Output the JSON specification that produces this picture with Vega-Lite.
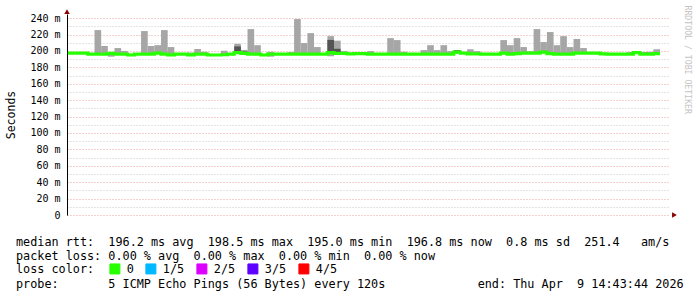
{
  "$schema": "https://vega.github.io/schema/vega-lite/v6.json",
  "background": "white",
  "padding": {"left": 5, "top": 5, "right": 5, "bottom": 0},
  "config": {"view": {"stroke": null}, "font": "DejaVu Sans Mono"},
  "spacing": 15,
  "datasets": {
    "smoke": [
      {"t":"2026-04-09T11:44","e":"2026-04-09T11:46","med":197.2,"lo":196.5,"hi":198.0,"loss":"0"},
      {"t":"2026-04-09T11:46","e":"2026-04-09T11:48","med":197.3,"lo":196.4,"hi":198.6,"loss":"0"},
      {"t":"2026-04-09T11:48","e":"2026-04-09T11:50","med":197.2,"lo":196.4,"hi":198.6,"loss":"0"},
      {"t":"2026-04-09T11:50","e":"2026-04-09T11:52","med":196.0,"lo":195.2,"hi":196.8,"loss":"0"},
      {"t":"2026-04-09T11:52","e":"2026-04-09T11:54","med":196.0,"lo":195.4,"hi":225.4,"loss":"0"},
      {"t":"2026-04-09T11:54","e":"2026-04-09T11:56","med":196.0,"lo":195.4,"hi":206.0,"loss":"0"},
      {"t":"2026-04-09T11:56","e":"2026-04-09T11:58","med":197.0,"lo":193.0,"hi":198.5,"dlo":197.0,"dhi":198.0,"loss":"0"},
      {"t":"2026-04-09T11:58","e":"2026-04-09T12:00","med":196.0,"lo":195.4,"hi":203.5,"loss":"0"},
      {"t":"2026-04-09T12:00","e":"2026-04-09T12:02","med":196.0,"lo":195.3,"hi":200.0,"loss":"0"},
      {"t":"2026-04-09T12:02","e":"2026-04-09T12:04","med":195.0,"lo":194.4,"hi":196.0,"loss":"0"},
      {"t":"2026-04-09T12:04","e":"2026-04-09T12:06","med":196.0,"lo":195.0,"hi":196.8,"loss":"0"},
      {"t":"2026-04-09T12:06","e":"2026-04-09T12:08","med":196.0,"lo":195.5,"hi":224.2,"loss":"0"},
      {"t":"2026-04-09T12:08","e":"2026-04-09T12:10","med":196.2,"lo":195.5,"hi":206.0,"loss":"0"},
      {"t":"2026-04-09T12:10","e":"2026-04-09T12:12","med":197.3,"lo":196.0,"hi":207.0,"dlo":197.0,"dhi":198.5,"loss":"0"},
      {"t":"2026-04-09T12:12","e":"2026-04-09T12:14","med":196.0,"lo":195.5,"hi":225.4,"loss":"0"},
      {"t":"2026-04-09T12:14","e":"2026-04-09T12:16","med":195.0,"lo":194.5,"hi":204.7,"loss":"0"},
      {"t":"2026-04-09T12:16","e":"2026-04-09T12:18","med":196.0,"lo":195.2,"hi":196.8,"loss":"0"},
      {"t":"2026-04-09T12:18","e":"2026-04-09T12:20","med":196.0,"lo":195.3,"hi":196.6,"loss":"0"},
      {"t":"2026-04-09T12:20","e":"2026-04-09T12:22","med":195.2,"lo":194.6,"hi":198.0,"loss":"0"},
      {"t":"2026-04-09T12:22","e":"2026-04-09T12:24","med":196.0,"lo":195.3,"hi":202.2,"loss":"0"},
      {"t":"2026-04-09T12:24","e":"2026-04-09T12:26","med":196.0,"lo":195.3,"hi":199.0,"loss":"0"},
      {"t":"2026-04-09T12:26","e":"2026-04-09T12:28","med":195.0,"lo":194.5,"hi":195.8,"loss":"0"},
      {"t":"2026-04-09T12:28","e":"2026-04-09T12:30","med":195.0,"lo":194.4,"hi":195.8,"loss":"0"},
      {"t":"2026-04-09T12:30","e":"2026-04-09T12:32","med":195.3,"lo":194.6,"hi":200.2,"loss":"0"},
      {"t":"2026-04-09T12:32","e":"2026-04-09T12:34","med":196.0,"lo":195.3,"hi":196.8,"loss":"0"},
      {"t":"2026-04-09T12:34","e":"2026-04-09T12:36","med":197.8,"lo":196.5,"hi":208.7,"dlo":198.6,"dhi":205.5,"loss":"0"},
      {"t":"2026-04-09T12:36","e":"2026-04-09T12:38","med":197.0,"lo":196.0,"hi":201.2,"dlo":197.5,"dhi":199.3,"loss":"0"},
      {"t":"2026-04-09T12:38","e":"2026-04-09T12:40","med":196.0,"lo":195.4,"hi":226.6,"loss":"0"},
      {"t":"2026-04-09T12:40","e":"2026-04-09T12:42","med":196.0,"lo":195.4,"hi":207.0,"loss":"0"},
      {"t":"2026-04-09T12:42","e":"2026-04-09T12:44","med":195.0,"lo":194.4,"hi":195.8,"loss":"0"},
      {"t":"2026-04-09T12:44","e":"2026-04-09T12:46","med":196.0,"lo":193.0,"hi":199.0,"loss":"0"},
      {"t":"2026-04-09T12:46","e":"2026-04-09T12:48","med":196.0,"lo":195.3,"hi":196.8,"loss":"0"},
      {"t":"2026-04-09T12:48","e":"2026-04-09T12:50","med":196.0,"lo":195.3,"hi":196.8,"loss":"0"},
      {"t":"2026-04-09T12:50","e":"2026-04-09T12:52","med":196.0,"lo":195.3,"hi":198.6,"loss":"0"},
      {"t":"2026-04-09T12:52","e":"2026-04-09T12:54","med":196.0,"lo":195.4,"hi":238.8,"loss":"0"},
      {"t":"2026-04-09T12:54","e":"2026-04-09T12:56","med":196.0,"lo":195.4,"hi":209.6,"loss":"0"},
      {"t":"2026-04-09T12:56","e":"2026-04-09T12:58","med":196.0,"lo":195.4,"hi":221.7,"loss":"0"},
      {"t":"2026-04-09T12:58","e":"2026-04-09T13:00","med":196.0,"lo":195.4,"hi":204.7,"loss":"0"},
      {"t":"2026-04-09T13:00","e":"2026-04-09T13:02","med":196.0,"lo":195.3,"hi":196.8,"loss":"0"},
      {"t":"2026-04-09T13:02","e":"2026-04-09T13:04","med":197.8,"lo":193.5,"hi":218.0,"dlo":198.6,"dhi":213.4,"loss":"0"},
      {"t":"2026-04-09T13:04","e":"2026-04-09T13:06","med":197.0,"lo":195.8,"hi":212.5,"dlo":196.5,"dhi":202.6,"loss":"0"},
      {"t":"2026-04-09T13:06","e":"2026-04-09T13:08","med":197.0,"lo":196.0,"hi":199.8,"loss":"0"},
      {"t":"2026-04-09T13:08","e":"2026-04-09T13:10","med":196.5,"lo":195.8,"hi":197.3,"loss":"0"},
      {"t":"2026-04-09T13:10","e":"2026-04-09T13:12","med":196.8,"lo":196.0,"hi":197.5,"loss":"0"},
      {"t":"2026-04-09T13:12","e":"2026-04-09T13:14","med":196.8,"lo":196.0,"hi":197.5,"loss":"0"},
      {"t":"2026-04-09T13:14","e":"2026-04-09T13:16","med":196.0,"lo":195.3,"hi":199.8,"loss":"0"},
      {"t":"2026-04-09T13:16","e":"2026-04-09T13:18","med":196.0,"lo":195.3,"hi":196.8,"loss":"0"},
      {"t":"2026-04-09T13:18","e":"2026-04-09T13:20","med":196.0,"lo":195.3,"hi":196.8,"loss":"0"},
      {"t":"2026-04-09T13:20","e":"2026-04-09T13:22","med":196.0,"lo":195.4,"hi":215.6,"loss":"0"},
      {"t":"2026-04-09T13:22","e":"2026-04-09T13:24","med":196.0,"lo":195.4,"hi":213.2,"loss":"0"},
      {"t":"2026-04-09T13:24","e":"2026-04-09T13:26","med":196.0,"lo":195.4,"hi":199.0,"loss":"0"},
      {"t":"2026-04-09T13:26","e":"2026-04-09T13:28","med":196.0,"lo":195.3,"hi":196.8,"loss":"0"},
      {"t":"2026-04-09T13:28","e":"2026-04-09T13:30","med":196.0,"lo":195.3,"hi":196.8,"loss":"0"},
      {"t":"2026-04-09T13:30","e":"2026-04-09T13:32","med":196.0,"lo":195.4,"hi":201.0,"loss":"0"},
      {"t":"2026-04-09T13:32","e":"2026-04-09T13:34","med":196.0,"lo":195.4,"hi":207.0,"loss":"0"},
      {"t":"2026-04-09T13:34","e":"2026-04-09T13:36","med":196.0,"lo":195.4,"hi":201.0,"loss":"0"},
      {"t":"2026-04-09T13:36","e":"2026-04-09T13:38","med":196.0,"lo":195.4,"hi":207.0,"loss":"0"},
      {"t":"2026-04-09T13:38","e":"2026-04-09T13:40","med":196.0,"lo":195.4,"hi":199.8,"loss":"0"},
      {"t":"2026-04-09T13:40","e":"2026-04-09T13:42","med":198.5,"lo":196.5,"hi":201.0,"dlo":199.5,"dhi":200.8,"loss":"0"},
      {"t":"2026-04-09T13:42","e":"2026-04-09T13:44","med":197.3,"lo":196.5,"hi":198.0,"loss":"0"},
      {"t":"2026-04-09T13:44","e":"2026-04-09T13:46","med":196.5,"lo":195.8,"hi":202.0,"loss":"0"},
      {"t":"2026-04-09T13:46","e":"2026-04-09T13:48","med":196.5,"lo":195.8,"hi":199.8,"loss":"0"},
      {"t":"2026-04-09T13:48","e":"2026-04-09T13:50","med":196.0,"lo":195.3,"hi":196.8,"loss":"0"},
      {"t":"2026-04-09T13:50","e":"2026-04-09T13:52","med":196.0,"lo":195.3,"hi":196.8,"loss":"0"},
      {"t":"2026-04-09T13:52","e":"2026-04-09T13:54","med":196.0,"lo":195.3,"hi":196.8,"loss":"0"},
      {"t":"2026-04-09T13:54","e":"2026-04-09T13:56","med":197.3,"lo":196.5,"hi":213.2,"loss":"0"},
      {"t":"2026-04-09T13:56","e":"2026-04-09T13:58","med":196.0,"lo":195.0,"hi":207.0,"dlo":196.5,"dhi":197.7,"loss":"0"},
      {"t":"2026-04-09T13:58","e":"2026-04-09T14:00","med":196.8,"lo":196.0,"hi":215.6,"loss":"0"},
      {"t":"2026-04-09T14:00","e":"2026-04-09T14:02","med":197.3,"lo":196.5,"hi":204.7,"loss":"0"},
      {"t":"2026-04-09T14:02","e":"2026-04-09T14:04","med":197.3,"lo":196.5,"hi":199.0,"dlo":198.0,"dhi":199.0,"loss":"0"},
      {"t":"2026-04-09T14:04","e":"2026-04-09T14:06","med":197.3,"lo":196.5,"hi":226.6,"loss":"0"},
      {"t":"2026-04-09T14:06","e":"2026-04-09T14:08","med":198.5,"lo":197.0,"hi":210.8,"loss":"0"},
      {"t":"2026-04-09T14:08","e":"2026-04-09T14:10","med":196.8,"lo":196.0,"hi":223.0,"loss":"0"},
      {"t":"2026-04-09T14:10","e":"2026-04-09T14:12","med":196.0,"lo":195.4,"hi":207.0,"loss":"0"},
      {"t":"2026-04-09T14:12","e":"2026-04-09T14:14","med":196.0,"lo":195.4,"hi":218.0,"loss":"0"},
      {"t":"2026-04-09T14:14","e":"2026-04-09T14:16","med":196.0,"lo":195.4,"hi":204.7,"loss":"0"},
      {"t":"2026-04-09T14:16","e":"2026-04-09T14:18","med":197.3,"lo":196.5,"hi":214.4,"loss":"0"},
      {"t":"2026-04-09T14:18","e":"2026-04-09T14:20","med":197.3,"lo":196.5,"hi":203.5,"loss":"0"},
      {"t":"2026-04-09T14:20","e":"2026-04-09T14:22","med":197.3,"lo":196.5,"hi":198.0,"dlo":197.3,"dhi":198.0,"loss":"0"},
      {"t":"2026-04-09T14:22","e":"2026-04-09T14:24","med":197.3,"lo":196.6,"hi":198.0,"loss":"0"},
      {"t":"2026-04-09T14:24","e":"2026-04-09T14:26","med":196.5,"lo":195.8,"hi":197.3,"loss":"0"},
      {"t":"2026-04-09T14:26","e":"2026-04-09T14:28","med":196.0,"lo":195.3,"hi":196.8,"loss":"0"},
      {"t":"2026-04-09T14:28","e":"2026-04-09T14:30","med":196.0,"lo":195.3,"hi":196.8,"loss":"0"},
      {"t":"2026-04-09T14:30","e":"2026-04-09T14:32","med":196.0,"lo":195.3,"hi":196.8,"loss":"0"},
      {"t":"2026-04-09T14:32","e":"2026-04-09T14:34","med":196.0,"lo":195.4,"hi":198.6,"loss":"0"},
      {"t":"2026-04-09T14:34","e":"2026-04-09T14:36","med":197.8,"lo":197.0,"hi":198.6,"loss":"0"},
      {"t":"2026-04-09T14:36","e":"2026-04-09T14:38","med":196.0,"lo":195.3,"hi":198.0,"dlo":197.0,"dhi":198.0,"loss":"0"},
      {"t":"2026-04-09T14:38","e":"2026-04-09T14:40","med":196.0,"lo":195.3,"hi":199.0,"loss":"0"},
      {"t":"2026-04-09T14:40","e":"2026-04-09T14:42","med":196.8,"lo":196.0,"hi":202.0,"loss":"0"},
      {"t":"2026-04-09T14:42","med":196.8,"loss":"0"}
    ],
    "legendText": [
      {"line": 1, "text": "median\u00a0rtt:\u00a0\u00a0196.2\u00a0ms\u00a0avg\u00a0\u00a0198.5\u00a0ms\u00a0max\u00a0\u00a0195.0\u00a0ms\u00a0min\u00a0\u00a0196.8\u00a0ms\u00a0now\u00a0\u00a00.8\u00a0ms\u00a0sd\u00a0\u00a0251.4\u00a0\u00a0\u00a0am/s"},
      {"line": 2, "text": "packet\u00a0loss:\u00a00.00\u00a0%\u00a0avg\u00a0\u00a00.00\u00a0%\u00a0max\u00a0\u00a00.00\u00a0%\u00a0min\u00a0\u00a00.00\u00a0%\u00a0now"},
      {"line": 4, "text": "probe:\u00a0\u00a0\u00a0\u00a0\u00a0\u00a0\u00a05\u00a0ICMP\u00a0Echo\u00a0Pings\u00a0(56\u00a0Bytes)\u00a0every\u00a0120s\u00a0\u00a0\u00a0\u00a0\u00a0\u00a0\u00a0\u00a0\u00a0\u00a0\u00a0\u00a0\u00a0end:\u00a0Thu\u00a0Apr\u00a0\u00a09\u00a014:43:44\u00a02026"}
    ]
  },
  "vconcat": [
    {
      "width": 603,
      "height": 201,
      "data": {"name": "smoke"},
      "resolve": {"axis": {"y": "independent"}},
      "layer": [
        {
          "mark": {"type": "rect", "color": "#a6a6a6"},
          "encoding": {
            "x": {
              "field": "t", "type": "temporal",
              "scale": {"domain": [{"year": 2026, "month": 4, "date": 9, "hours": 11, "minutes": 43, "seconds": 44}, {"year": 2026, "month": 4, "date": 9, "hours": 14, "minutes": 45}], "nice": false},
              "axis": {
                "title": null,
                "tickCount": {"interval": "minute", "step": 5},
                "labelExpr": "minutes(datum.value) % 20 === 0 ? timeFormat(datum.value, '%H:%M') : ''",
                "grid": true,
                "gridColor": {"condition": {"test": "minutes(datum.value) % 20 === 0", "value": "#e8a0a0"}, "value": "#c8c8c8"},
                "gridDash": [1, 2],
                "ticks": false, "tickSize": 0,
                "labelPadding": 4, "labelAngle": 0,
                "labelFont": "DejaVu Sans Mono", "labelFontSize": 10, "labelColor": "#000000",
                "labelOverlap": false, "labelFlush": false,
                "domainColor": "#000000"
              }
            },
            "x2": {"field": "e"},
            "y": {
              "field": "lo", "type": "quantitative",
              "scale": {"domain": [0, 245], "nice": false, "zero": true},
              "axis": {
                "title": "Seconds",
                "titleFont": "DejaVu Sans Mono", "titleFontSize": 11.5, "titleFontWeight": "normal", "titleColor": "#000000",
                "titlePadding": 13,
                "values": [0,10,20,30,40,50,60,70,80,90,100,110,120,130,140,150,160,170,180,190,200,210,220,230,240],
                "labelExpr": "datum.value === 0 ? '0\u00a0' : (datum.value % 20 === 0 ? datum.value + ' m' : '')",
                "grid": true,
                "gridColor": {"condition": {"test": "datum.value % 20 === 0", "value": "#e8a0a0"}, "value": "#c8c8c8"},
                "gridDash": [1, 2],
                "ticks": false, "tickSize": 0,
                "labelPadding": 7,
                "labelFont": "DejaVu Sans Mono", "labelFontSize": 10, "labelColor": "#000000",
                "labelOverlap": false, "labelFlush": false,
                "domainColor": "#000000"
              }
            },
            "y2": {"field": "hi"}
          }
        },
        {
          "transform": [{"filter": "datum.dlo != null"}],
          "mark": {"type": "rect", "color": "#545454"},
          "encoding": {
            "x": {"field": "t", "type": "temporal", "axis": null},
            "x2": {"field": "e"},
            "y": {"field": "dlo", "type": "quantitative", "axis": null},
            "y2": {"field": "dhi"}
          }
        },
        {
          "mark": {"type": "line", "interpolate": "step-after", "strokeWidth": 3.2},
          "encoding": {
            "x": {"field": "t", "type": "temporal", "axis": null},
            "y": {
              "field": "med", "type": "quantitative",
              "axis": {
                "orient": "right", "labels": false, "ticks": false, "domain": false, "grid": false,
                "title": "RRDTOOL / TOBI OETIKER",
                "titleAngle": 90, "titleX": 16, "titleY": -9, "titleAlign": "left", "titleBaseline": "middle",
                "titleColor": "#c4c4c4", "titleFont": "DejaVu Sans Mono", "titleFontSize": 8.2, "titleFontWeight": "normal"
              }
            },
            "color": {
              "field": "loss", "type": "nominal",
              "scale": {"domain": ["0", "1/5", "2/5", "3/5", "4/5"], "range": ["#26ff00", "#00b8ff", "#dd00ff", "#5e00ff", "#ff0000"]},
              "legend": {
                "title": "loss color:", "orient": "none", "legendX": -51, "legendY": 249,
                "direction": "horizontal", "titleOrient": "left", "titlePadding": 14,
                "titleFont": "DejaVu Sans Mono", "titleFontSize": 11.8, "titleFontWeight": "normal", "titleColor": "#000000",
                "labelFont": "DejaVu Sans Mono", "labelFontSize": 11.8, "labelColor": "#000000",
                "symbolType": "square", "symbolSize": 100, "symbolStrokeColor": "#000000", "symbolStrokeWidth": 1,
                "labelOffset": 6, "columnPadding": 9, "padding": 0,
                "encode": {"symbols": {"update": {"fill": {"scale": "color", "field": "value"}, "fillOpacity": {"value": 1}, "stroke": {"value": "#000000"}, "strokeWidth": {"value": 1}}}}
              }
            }
          }
        },
        {
          "data": {"values": [{}]},
          "mark": {"type": "point", "shape": "triangle-up", "filled": true, "color": "#8b0000", "size": 30, "opacity": 1},
          "encoding": {
            "x": {"datum": {"year": 2026, "month": 4, "date": 9, "hours": 11, "minutes": 43, "seconds": 44}, "type": "temporal", "axis": null},
            "y": {"datum": 248, "type": "quantitative", "axis": null}
          }
        },
        {
          "data": {"values": [{}]},
          "mark": {"type": "point", "shape": "triangle-right", "filled": true, "color": "#8b0000", "size": 30, "opacity": 1},
          "encoding": {
            "x": {"datum": {"year": 2026, "month": 4, "date": 9, "hours": 14, "minutes": 46, "seconds": 20}, "type": "temporal", "axis": null},
            "y": {"datum": 0, "type": "quantitative", "axis": null}
          }
        }
      ]
    },
    {
      "width": 603,
      "height": 56,
      "data": {"name": "legendText"},
      "mark": {"type": "text", "align": "left", "baseline": "middle", "font": "DejaVu Sans Mono", "fontSize": 11.8, "color": "#000000"},
      "encoding": {
        "x": {"datum": 0, "type": "quantitative", "scale": {"domain": [7.183, 92.11], "nice": false, "zero": false}, "axis": null},
        "y": {"field": "line", "type": "quantitative", "scale": {"domain": [0.5, 4.5], "reverse": true, "nice": false, "zero": false}, "axis": null},
        "text": {"field": "text"}
      }
    }
  ]
}
